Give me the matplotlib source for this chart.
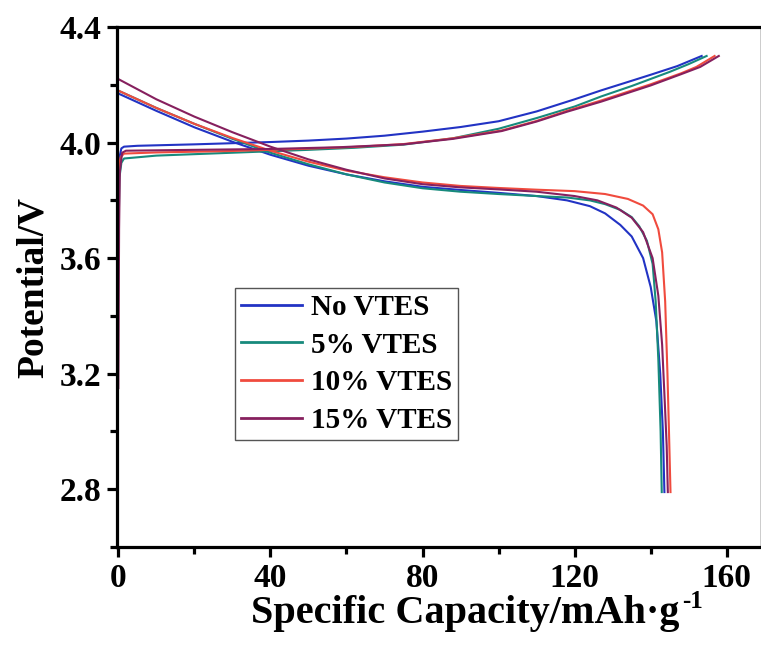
import matplotlib
matplotlib.use("Agg")
import matplotlib.pyplot as plt
from matplotlib.ticker import MultipleLocator

plt.rcParams['font.family'] = ['Liberation Serif', 'DejaVu Serif']
plt.rcParams['font.weight'] = 'bold'

labels = ["No VTES", "5% VTES", "10% VTES", "15% VTES"]
colors = ["#2233c4", "#178a7c", "#f04b3e", "#86205e"]

# charge branches (capacity mAh/g, potential V)
charge_cap = [
    [0, 0.3, 0.8, 1.5, 5, 20, 40, 50, 60, 70, 80, 90, 100, 110, 120, 127, 134, 140, 147, 153.4],
    [0, 0.3, 0.8, 1.5, 10, 30, 50, 62, 75, 88, 100, 110, 120, 127, 135, 145, 150, 154.7],
    [0, 0.3, 0.6, 1.5, 10, 30, 50, 62, 75, 88, 100.8, 110, 118, 127, 140, 148, 152, 156.8],
    [0, 0.2, 0.4, 1.0, 2, 20, 40, 58, 75, 88, 100.8, 110, 118, 127, 140, 148, 153, 157.9],
]
charge_v = [
    [3.88, 3.95, 3.98, 3.986, 3.989, 3.994, 4.002, 4.007, 4.014, 4.024, 4.038, 4.054, 4.074, 4.108, 4.15, 4.181, 4.21, 4.235, 4.265, 4.30],
    [3.65, 3.88, 3.93, 3.945, 3.955, 3.965, 3.975, 3.982, 3.993, 4.015, 4.048, 4.085, 4.125, 4.16, 4.196, 4.245, 4.272, 4.30],
    [3.85, 3.93, 3.95, 3.962, 3.966, 3.971, 3.979, 3.985, 3.995, 4.015, 4.042, 4.075, 4.11, 4.146, 4.202, 4.24, 4.262, 4.30],
    [3.15, 3.70, 3.90, 3.965, 3.972, 3.975, 3.978, 3.984, 3.994, 4.013, 4.040, 4.073, 4.107, 4.142, 4.198, 4.237, 4.262, 4.30],
]

# discharge branches
discharge_cap = [
    [0, 5, 10, 20, 30, 40, 50, 60, 70, 80, 90, 100, 110, 118, 124, 128, 132, 135, 138, 140, 141.5, 142.5, 143.2, 143.6],
    [0, 5, 10, 20, 30, 40, 50, 60, 70, 80, 90, 100, 110, 118, 124, 128, 132, 135, 137, 139, 140.5, 141.3, 142, 142.6, 142.9],
    [0, 5, 10, 20, 30, 40, 50, 60, 70, 80, 90, 100, 110, 120, 128, 134, 138, 140.5, 142, 143, 143.8, 144.4, 144.8, 145.2],
    [0, 5, 10, 20, 30, 40, 50, 60, 70, 80, 90, 100, 110, 120, 126, 131, 135, 138, 140.5, 142, 143, 143.7, 144.2, 144.5],
]
discharge_v = [
    [4.17, 4.14, 4.11, 4.053, 4.003, 3.958, 3.92, 3.89, 3.866, 3.847, 3.836, 3.826, 3.815, 3.80, 3.78, 3.755, 3.715, 3.675, 3.60, 3.50, 3.38, 3.20, 3.00, 2.79],
    [4.18, 4.15, 4.12, 4.065, 4.013, 3.965, 3.925, 3.89, 3.862, 3.842, 3.83, 3.822, 3.815, 3.81, 3.80, 3.787, 3.767, 3.742, 3.71, 3.66, 3.58, 3.45, 3.25, 3.00, 2.79],
    [4.18, 4.15, 4.12, 4.065, 4.016, 3.972, 3.934, 3.903, 3.88, 3.862, 3.85, 3.843, 3.837, 3.832, 3.822, 3.805, 3.782, 3.752, 3.70, 3.62, 3.45, 3.20, 3.00, 2.79],
    [4.22, 4.185, 4.15, 4.09, 4.036, 3.986, 3.942, 3.906, 3.876, 3.856, 3.845, 3.838, 3.83, 3.815, 3.80, 3.775, 3.74, 3.69, 3.60, 3.47, 3.30, 3.10, 2.95, 2.79],
]

fig = plt.figure(figsize=(7.61, 6.45), dpi=100)
ax = fig.add_axes([0.154, 0.152, 0.846, 0.806])

for i in range(4):
    ax.plot(charge_cap[i], charge_v[i], color=colors[i], lw=1.5, label=labels[i])
    ax.plot(discharge_cap[i], discharge_v[i], color=colors[i], lw=1.5)

ax.set_xlim(-0.3, 169)
ax.set_ylim(2.6, 4.4)
ax.xaxis.set_major_locator(MultipleLocator(40))
ax.xaxis.set_minor_locator(MultipleLocator(20))
ax.yaxis.set_major_locator(MultipleLocator(0.4))
ax.yaxis.set_minor_locator(MultipleLocator(0.2))
ax.yaxis.set_major_formatter(plt.FormatStrFormatter('%.1f'))

for s in ax.spines.values():
    s.set_linewidth(2.3)
ax.spines['right'].set_linewidth(1.0)
ax.tick_params(which='both', direction='out', width=2.3, top=False, right=False)
ax.tick_params(which='major', length=7.5, labelsize=24, pad=4)
ax.tick_params(which='minor', length=5)

ax.set_xlabel("Specific Capacity/mAh·g", fontsize=29, fontweight='bold')
ax.xaxis.set_label_coords(0.541, -0.093)
ax.set_ylabel("Potential/V", fontsize=27, fontweight='bold', labelpad=6)

leg = ax.legend(loc='upper left', bbox_to_anchor=(0.1835, 0.498), fontsize=21,
                frameon=True, fancybox=False, framealpha=1, edgecolor='#555555',
                handlelength=2.1, handletextpad=0.3, labelspacing=0.37,
                borderpad=0.2, borderaxespad=0)
leg.get_frame().set_linewidth(1.0)
for line in leg.get_lines():
    line.set_linewidth(2.0)

# small "-1" superscript placed right after the x label
fig.canvas.draw()
bb = ax.xaxis.label.get_window_extent()
fig.text(bb.x1 + 2, bb.y1 + 5, "-1", fontsize=18, fontweight='bold',
         ha='left', va='top', transform=None)

fig.savefig("out.png", dpi=100)
